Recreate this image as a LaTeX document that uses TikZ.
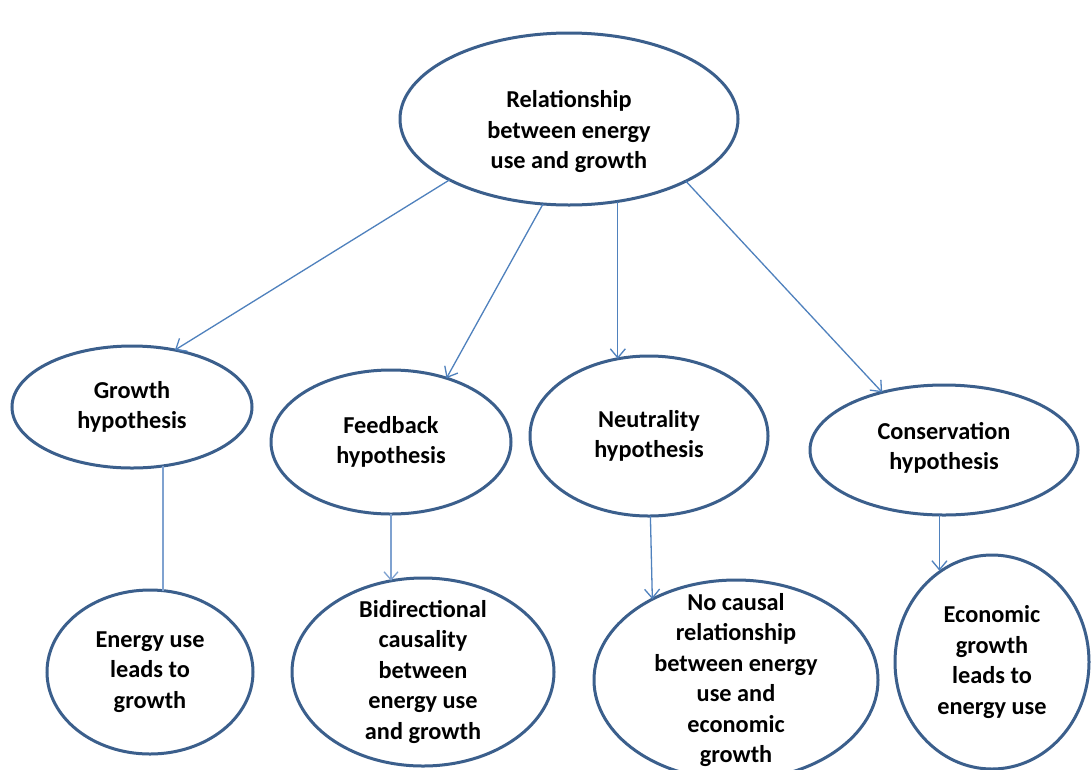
\documentclass[tikz,border=0pt]{standalone}
\usepackage{fontspec}
\setmainfont{Carlito}
\usetikzlibrary{arrows.meta,shapes.geometric}
\definecolor{ellblue}{HTML}{3B5F8C}
\definecolor{lnblue}{HTML}{4F81BD}
\definecolor{lnlight}{HTML}{7FA2D0}
\tikzset{
  ell/.style={ellipse, draw=ellblue, line width=3pt, inner sep=0pt, outer sep=0pt},
  txt/.style={inner sep=0pt, align=center, font=\fontsize{24.3}{30.5}\selectfont\bfseries, text=black},
  arr/.style={draw=lnblue, line width=1.3pt, -{Straight Barb[length=9pt,width=15pt,line width=1.3pt]}},
  vline/.style={draw=lnlight, line width=2pt},
  varr/.style={draw=lnlight, line width=1.8pt, -{Straight Barb[length=8pt,width=14pt,line width=1.3pt]}}
}
\begin{document}
\begin{tikzpicture}[x=1pt,y=-1pt]
\useasboundingbox (0,0) rectangle (1091,769);
\clip (0,0) rectangle (1091,769);
\fill[white] (0,0) rectangle (1091,769);

\node[ell, minimum width=338pt, minimum height=172pt] (top) at (569,119) {};
\node[txt] (toptext) at ([yshift=-13pt]top.center) {Relationship\\between energy\\use and growth};

\node[ell, minimum width=240pt, minimum height=122pt] (growth) at (132,407) {};
\node[txt] at (growth.center) {Growth\\hypothesis};
\node[ell, minimum width=240pt, minimum height=144pt] (feed) at (391,442) {};
\node[txt] at (feed.center) {Feedback\\hypothesis};
\node[ell, minimum width=238pt, minimum height=160pt] (neutr) at (649,436) {};
\node[txt] at (neutr.center) {Neutrality\\hypothesis};
\node[ell, minimum width=268pt, minimum height=130pt] (cons) at (944,450) {};
\node[txt] at ([yshift=2pt]cons.center) {Conservation\\hypothesis};

\node[ell, minimum width=206pt, minimum height=164pt] (energy) at (150,672) {};
\node[txt] at (energy.center) {Energy use\\leads to\\growth};
\node[ell, minimum width=262pt, minimum height=188pt] (bidir) at (423,672) {};
\node[txt] at (bidir.center) {Bidirectional\\causality\\between\\energy use\\and growth};
\node[ell, minimum width=284pt, minimum height=200pt] (nocaus) at (736,680) {};
\node[txt] at (nocaus.center) {No causal\\relationship\\between energy\\use and\\economic\\growth};
\node[ell, minimum width=194pt, minimum height=214pt] (econ) at (992,662) {};
\node[txt] at (econ.center) {Economic\\growth\\leads to\\energy use};

\draw[arr] (top.207.5) -- (growth.53);
\draw[arr] (top.253.2) -- (feed.49);
\draw[arr] (top.300 -| neutr.112) -- (neutr.112);
\draw[arr] (top.332.9) -- (cons.137.6);

\draw[vline] (growth.298.6) -- (growth.298.6 |- energy.80.2);
\draw[varr] (feed.south) -- (feed.south |- bidir.109.3);
\draw[arr] (neutr.271) -- (nocaus.136.1);
\draw[arr] (cons.266.5) -- (cons.266.5 |- econ.119.9);
\end{tikzpicture}
\end{document}
